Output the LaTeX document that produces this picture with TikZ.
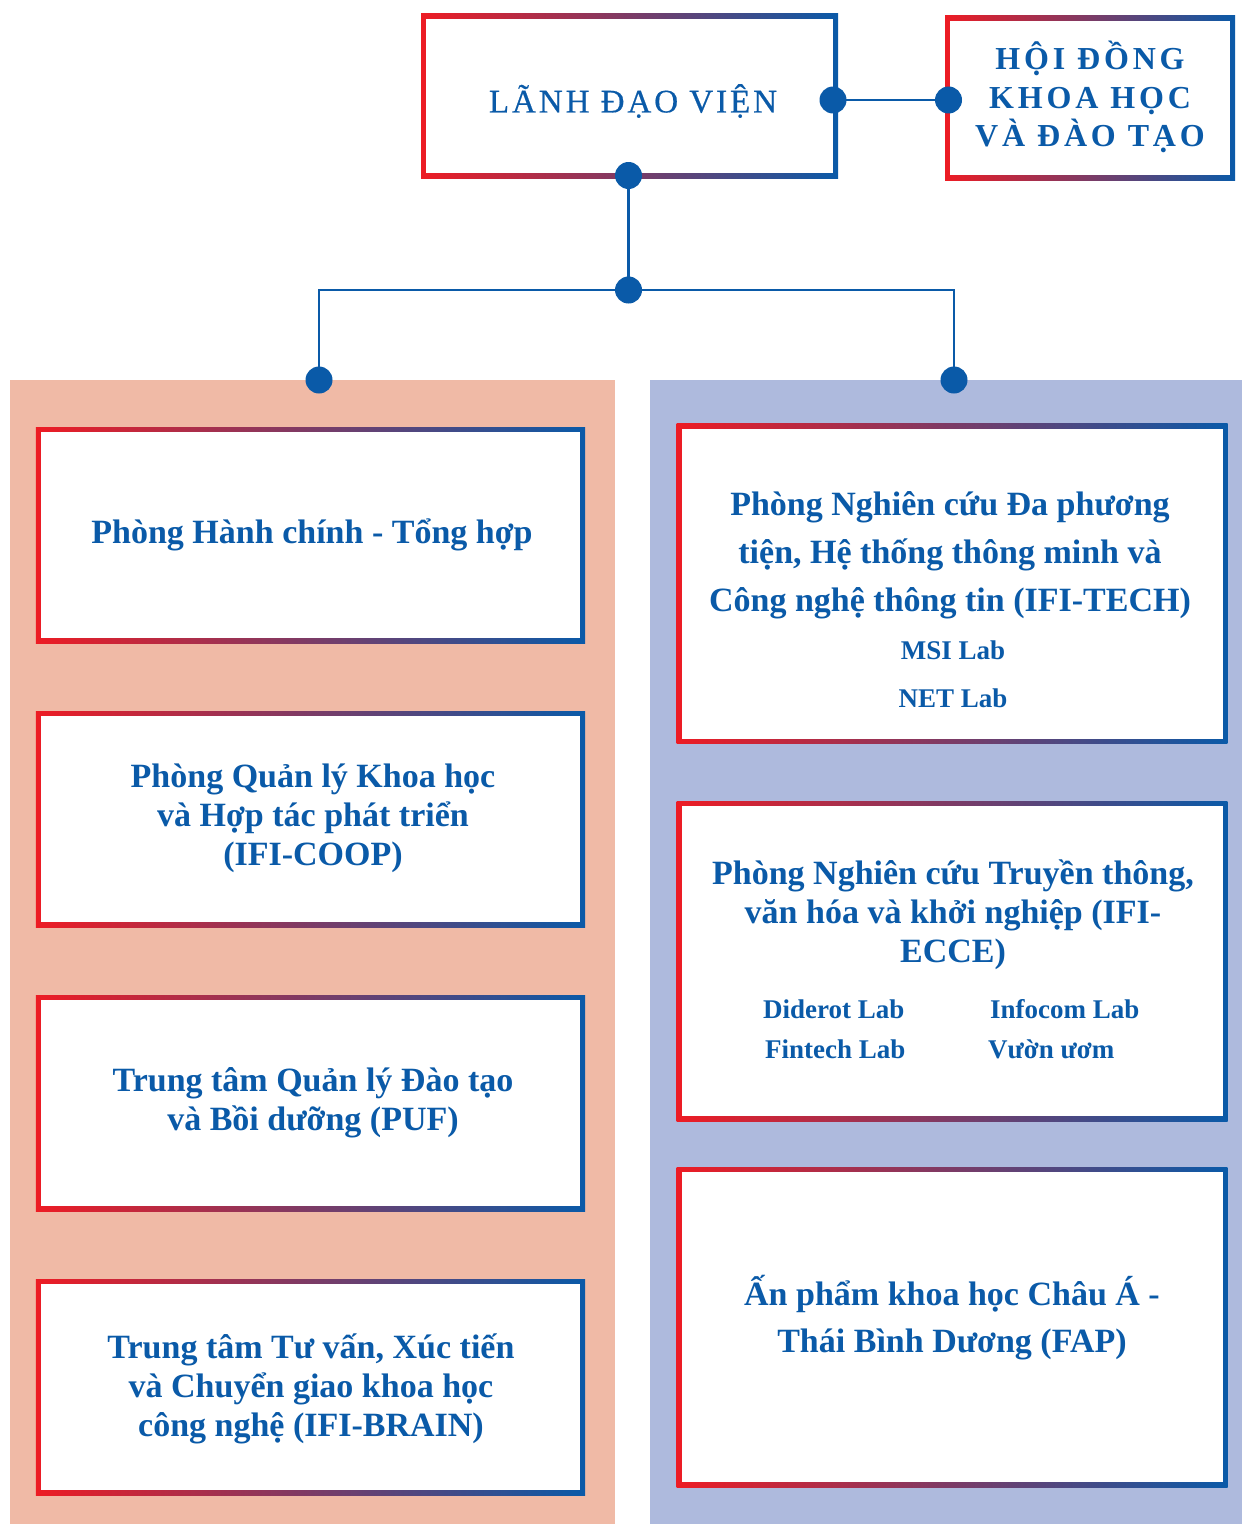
\documentclass[tikz,border=0pt]{standalone}
\usepackage{fontspec}
\setmainfont{Liberation Serif}
\newfontfamily\capsfont[LetterSpace=9,FakeBold=0.5]{Liberation Serif}
\newfontfamily\capsbold[LetterSpace=12]{Liberation Serif Bold}
\definecolor{cred}{HTML}{ED1C24}
\definecolor{cblue}{HTML}{0A5AA8}
\definecolor{salmon}{HTML}{F0BAA6}
\definecolor{lav}{HTML}{AEBADD}
\begin{document}
\begin{tikzpicture}[x=1bp,y=-1bp,
  gbox/.style={rectangle,inner sep=0pt,outer sep=0pt,fill=white,
    path picture={
      \shade[left color=cred,right color=cblue]
        (path picture bounding box.south west) rectangle (path picture bounding box.north east);
      \fill[white]
        ([shift={(5bp,5bp)}]path picture bounding box.south west) rectangle
        ([shift={(-5bp,-5bp)}]path picture bounding box.north east);
    }},
  panel/.style={rectangle,inner sep=0pt,outer sep=0pt,anchor=north west},
  dot/.style={circle,fill=cblue,inner sep=0pt,minimum size=27bp},
  conn/.style={draw=cblue,line width=2.5bp},
  txt/.style={text=cblue,align=center,inner sep=0pt,font=\bfseries\fontsize{34bp}{39bp}\selectfont},
  txtw/.style={txt,font=\bfseries\fontsize{34bp}{48bp}\selectfont},
  lab/.style={text=cblue,inner sep=0pt,font=\bfseries\fontsize{27bp}{32bp}\selectfont},
  lbox/.style={gbox,minimum width=549bp,minimum height=216bp},
  rbox/.style={gbox,minimum width=551bp,minimum height=320bp}
]
\useasboundingbox (0,0) rectangle (1242,1524);
\fill[white] (0,0) rectangle (1242,1524);

% panels
\node[panel,fill=salmon,minimum width=605bp,minimum height=1144bp] (lpan) at (10,380) {};
\node[panel,fill=lav,minimum width=592bp,minimum height=1144bp] (rpan) at (650,380) {};

% top boxes
\node[gbox,minimum width=417bp,minimum height=164bp] (lanh) at (629.5,96) {};
\node[text=cblue,inner sep=0pt,font=\capsfont\fontsize{33bp}{38bp}\selectfont] (lanhT) at (633,101) {LÃNH ĐẠO VIỆN};
\node[gbox,minimum width=290bp,minimum height=164bp] (hoi) at (1090,98) {};
\node[text=cblue,inner sep=0pt,align=center,font=\capsbold\fontsize{32bp}{38.5bp}\selectfont] (hoiT) at (1090,97) {HỘI ĐỒNG\\KHOA HỌC\\VÀ ĐÀO TẠO};

% left boxes
\node[lbox] (l1) at (310.5,535) {};
\node[lbox] (l2) at (310.5,819) {};
\node[lbox] (l3) at (310.5,1103) {};
\node[lbox] (l4) at (310.5,1387) {};
\node[txt] (l1T) at (312,535) {Phòng Hành chính - Tổng hợp};
\node[txt] (l2T) at (313,818) {Phòng Quản lý Khoa học\\và Hợp tác phát triển\\(IFI-COOP)};
\node[txt] (l3T) at (313,1103) {Trung tâm Quản lý Đào tạo\\và Bồi dưỡng (PUF)};
\node[txt] (l4T) at (311,1389) {Trung tâm Tư vấn, Xúc tiến\\và Chuyển giao khoa học\\công nghệ (IFI-BRAIN)};

% right boxes
\node[rbox] (r1) at (952,583.5) {};
\node[rbox] (r2) at (952,961) {};
\node[rbox] (r3) at (952,1327) {};
\node[txtw] (r1T) at (950,555) {Phòng Nghiên cứu Đa phương\\tiện, Hệ thống thông minh và\\Công nghệ thông tin (IFI-TECH)};
\node[lab] (msi) at (953,650) {MSI Lab};
\node[lab] (net) at (953,698) {NET Lab};
\node[txt] (r2T) at (953,915) {Phòng Nghiên cứu Truyền thông,\\văn hóa và khởi nghiệp (IFI-\\ECCE)};
\node[lab,anchor=west] (did) at (763,1009) {Diderot Lab};
\node[lab,anchor=west] (fin) at (765,1049) {Fintech Lab};
\node[lab,anchor=west] (inf) at (990,1009) {Infocom Lab};
\node[lab,anchor=west] (vuon) at (988,1049) {Vườn ươm};
\node[txtw,font=\bfseries\fontsize{34bp}{47bp}\selectfont] (r3T) at (952,1318) {Ấn phẩm khoa học Châu Á -\\Thái Bình Dương (FAP)};

% connectors
\coordinate (d1) at (833,100);
\coordinate (d2) at (948.5,100);
\coordinate (d3) at (628.5,175.5);
\coordinate (j) at (628.5,290);
\coordinate (lp) at (319,380);
\coordinate (rp) at (954,380);
\draw[conn] (d1) -- (d2);
\draw[conn] (d3) -- (j);
\draw[conn] (j) -| (lp);
\draw[conn] (j) -| (rp);
\foreach \c in {d1,d2,d3,j,lp,rp} \node[dot] (\c dot) at (\c) {};
\end{tikzpicture}
\end{document}
